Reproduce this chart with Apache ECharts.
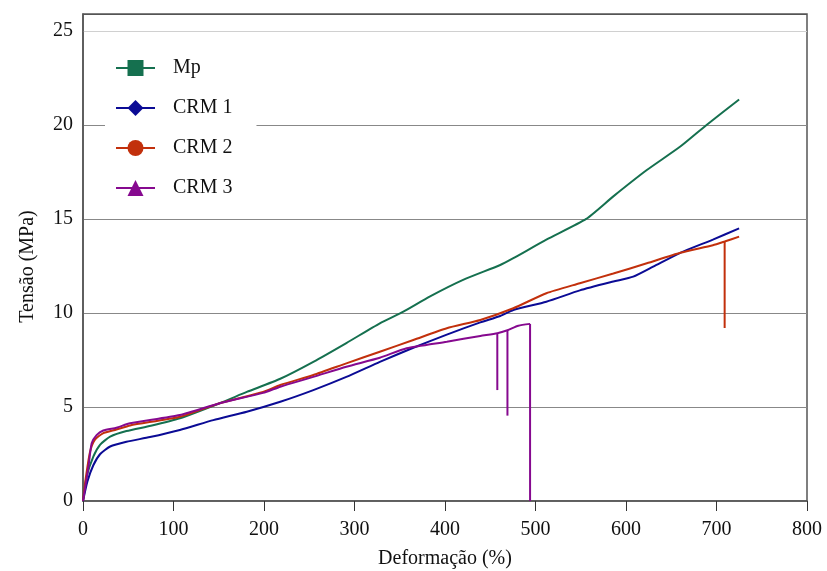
<!DOCTYPE html>
<html>
<head>
<meta charset="utf-8">
<script src="https://cdn.jsdelivr.net/npm/echarts@6/dist/echarts.min.js"></script>
<style>
  html, body { margin: 0; padding: 0; background: #fff; }
  #chart { width: 827px; height: 571px; }
</style>
</head>
<body>
<div id="chart"></div>
<script>
// Stress–strain curves (strain in %, stress in MPa)
const seriesNames = ['Mp', 'CRM 1', 'CRM 2', 'CRM 3'];

const mpStrain = [0, 4, 11.4, 19, 30, 48, 75, 107, 151, 181, 218, 254.5, 291, 328, 354, 383, 420, 461, 475, 512, 556, 586, 623, 660, 689, 725];
const mpStress = [0, 1.3, 2.36, 3.0, 3.42, 3.72, 4.0, 4.4, 5.2, 5.8, 6.5, 7.4, 8.4, 9.45, 10.07, 10.87, 11.76, 12.55, 12.9, 13.9, 15.0, 16.2, 17.6, 18.85, 20.0, 21.35];

const crm1Strain = [0, 4.8, 11.4, 19, 30, 48, 74, 107, 144, 181, 218, 254.5, 291, 328, 365, 402, 439, 461, 475.5, 512, 549, 586, 608, 630, 660, 696, 725];
const crm1Stress = [0, 1.03, 1.9, 2.5, 2.9, 3.15, 3.4, 3.78, 4.3, 4.75, 5.28, 5.9, 6.6, 7.4, 8.15, 8.85, 9.5, 9.84, 10.16, 10.6, 11.2, 11.67, 11.93, 12.46, 13.2, 13.9, 14.5];

const crm2Strain = [0, 3, 7.7, 13, 22, 37, 52, 107, 151, 199, 218, 254.5, 291, 328, 365, 402, 439, 475.5, 512, 549, 586, 623, 660, 696, 709, 725];
const crm2Stress = [0, 1.2, 2.6, 3.25, 3.6, 3.8, 4.02, 4.48, 5.2, 5.8, 6.17, 6.7, 7.32, 7.94, 8.56, 9.19, 9.63, 10.25, 11.05, 11.58, 12.1, 12.64, 13.2, 13.6, 13.8, 14.06];

const crm3Strain = [0, 2.5, 6, 9.6, 15, 22.4, 37, 52, 107, 151, 199, 218, 254.5, 291, 328, 357.6, 402, 439, 457.8, 469, 481, 494];
const crm3Stress = [0, 0.75, 1.82, 3.07, 3.5, 3.75, 3.9, 4.13, 4.57, 5.2, 5.75, 6.08, 6.6, 7.14, 7.62, 8.12, 8.47, 8.78, 8.92, 9.08, 9.32, 9.42];

// Specimen ruptures: [strain, stress before, stress after]
const crm2Ruptures = [[709, 13.8, 9.2]];
const crm3Ruptures = [[457.8, 8.92, 5.9], [469, 9.08, 4.54], [494, 9.42, 0]];

const xTicks = [0, 100, 200, 300, 400, 500, 600, 700, 800];
const yTicks = [0, 5, 10, 15, 20, 25];

const colors = ['#15704f', '#0b0b95', '#c2300c', '#86098f'];
const symbols = ['rect', 'diamond', 'circle', 'triangle'];
const serif = '"Liberation Serif", "Times New Roman", serif';

const curves = [
  [mpStrain, mpStress, []],
  [crm1Strain, crm1Stress, []],
  [crm2Strain, crm2Stress, crm2Ruptures],
  [crm3Strain, crm3Stress, crm3Ruptures]
];

const series = [];
curves.forEach((c, i) => {
  series.push({
    name: seriesNames[i],
    type: 'line',
    data: c[0].map((x, k) => [x, c[1][k]]),
    showSymbol: false,
    symbol: symbols[i],
    smooth: 0.2,
    color: colors[i],
    lineStyle: { color: colors[i], width: 2 },
    itemStyle: { color: colors[i] },
    z: 2 + i
  });
  c[2].forEach(r => {
    series.push({
      name: seriesNames[i],
      type: 'line',
      data: [[r[0], r[1]], [r[0], r[2]]],
      showSymbol: false,
      symbol: symbols[i],
      color: colors[i],
      lineStyle: { color: colors[i], width: 2 },
      itemStyle: { color: colors[i] },
      z: 2 + i
    });
  });
});

const chart = echarts.init(document.getElementById('chart'), null, { renderer: 'canvas' });

chart.setOption({
  animation: false,
  backgroundColor: '#fff',
  grid: {
    left: 83, right: 20, top: 14, bottom: 70,
    outerBoundsMode: 'none',
    show: true, borderColor: '#555', borderWidth: 1.5, backgroundColor: 'transparent'
  },
  legend: {
    orient: 'vertical',
    left: 105, top: 48,
    padding: [10, 24, 10, 10],
    backgroundColor: '#fff',
    itemWidth: 39, itemHeight: 20, itemGap: 20,
    textStyle: { fontFamily: serif, fontSize: 20, color: '#111', padding: [0, 0, 0, 13] },
    data: seriesNames
  },
  xAxis: {
    type: 'value',
    min: xTicks[0], max: xTicks[xTicks.length - 1], interval: xTicks[1] - xTicks[0],
    name: 'Deformação (%)',
    nameLocation: 'middle', nameGap: 48,
    nameTextStyle: { fontFamily: serif, fontSize: 20, color: '#111' },
    axisLine: { show: true, lineStyle: { color: '#555', width: 1.5 } },
    axisTick: { show: true, inside: false, length: 10, lineStyle: { color: '#333', width: 1 } },
    axisLabel: { fontFamily: serif, fontSize: 20, color: '#111', margin: 19 },
    splitLine: { show: false }
  },
  yAxis: {
    type: 'value',
    min: yTicks[0], max: 25.9, interval: yTicks[1] - yTicks[0],
    name: 'Tensão (MPa)',
    nameLocation: 'middle', nameGap: 45,
    nameTextStyle: { fontFamily: serif, fontSize: 20, color: '#111', padding: [0, 18, 0, 0] },
    axisLine: { show: true, lineStyle: { color: '#555', width: 1.5 } },
    axisTick: { show: false },
    axisLabel: {
      fontFamily: serif, fontSize: 20, color: '#111', margin: 10,
      formatter: v => (yTicks.indexOf(v) >= 0 ? String(v) : '')
    },
    splitLine: {
      show: true,
      lineStyle: { color: ['#888', '#888', '#888', '#888', '#888', '#d0d0d0', '#555'], width: 1.2 }
    }
  },
  series: series
});
</script>
</body>
</html>
